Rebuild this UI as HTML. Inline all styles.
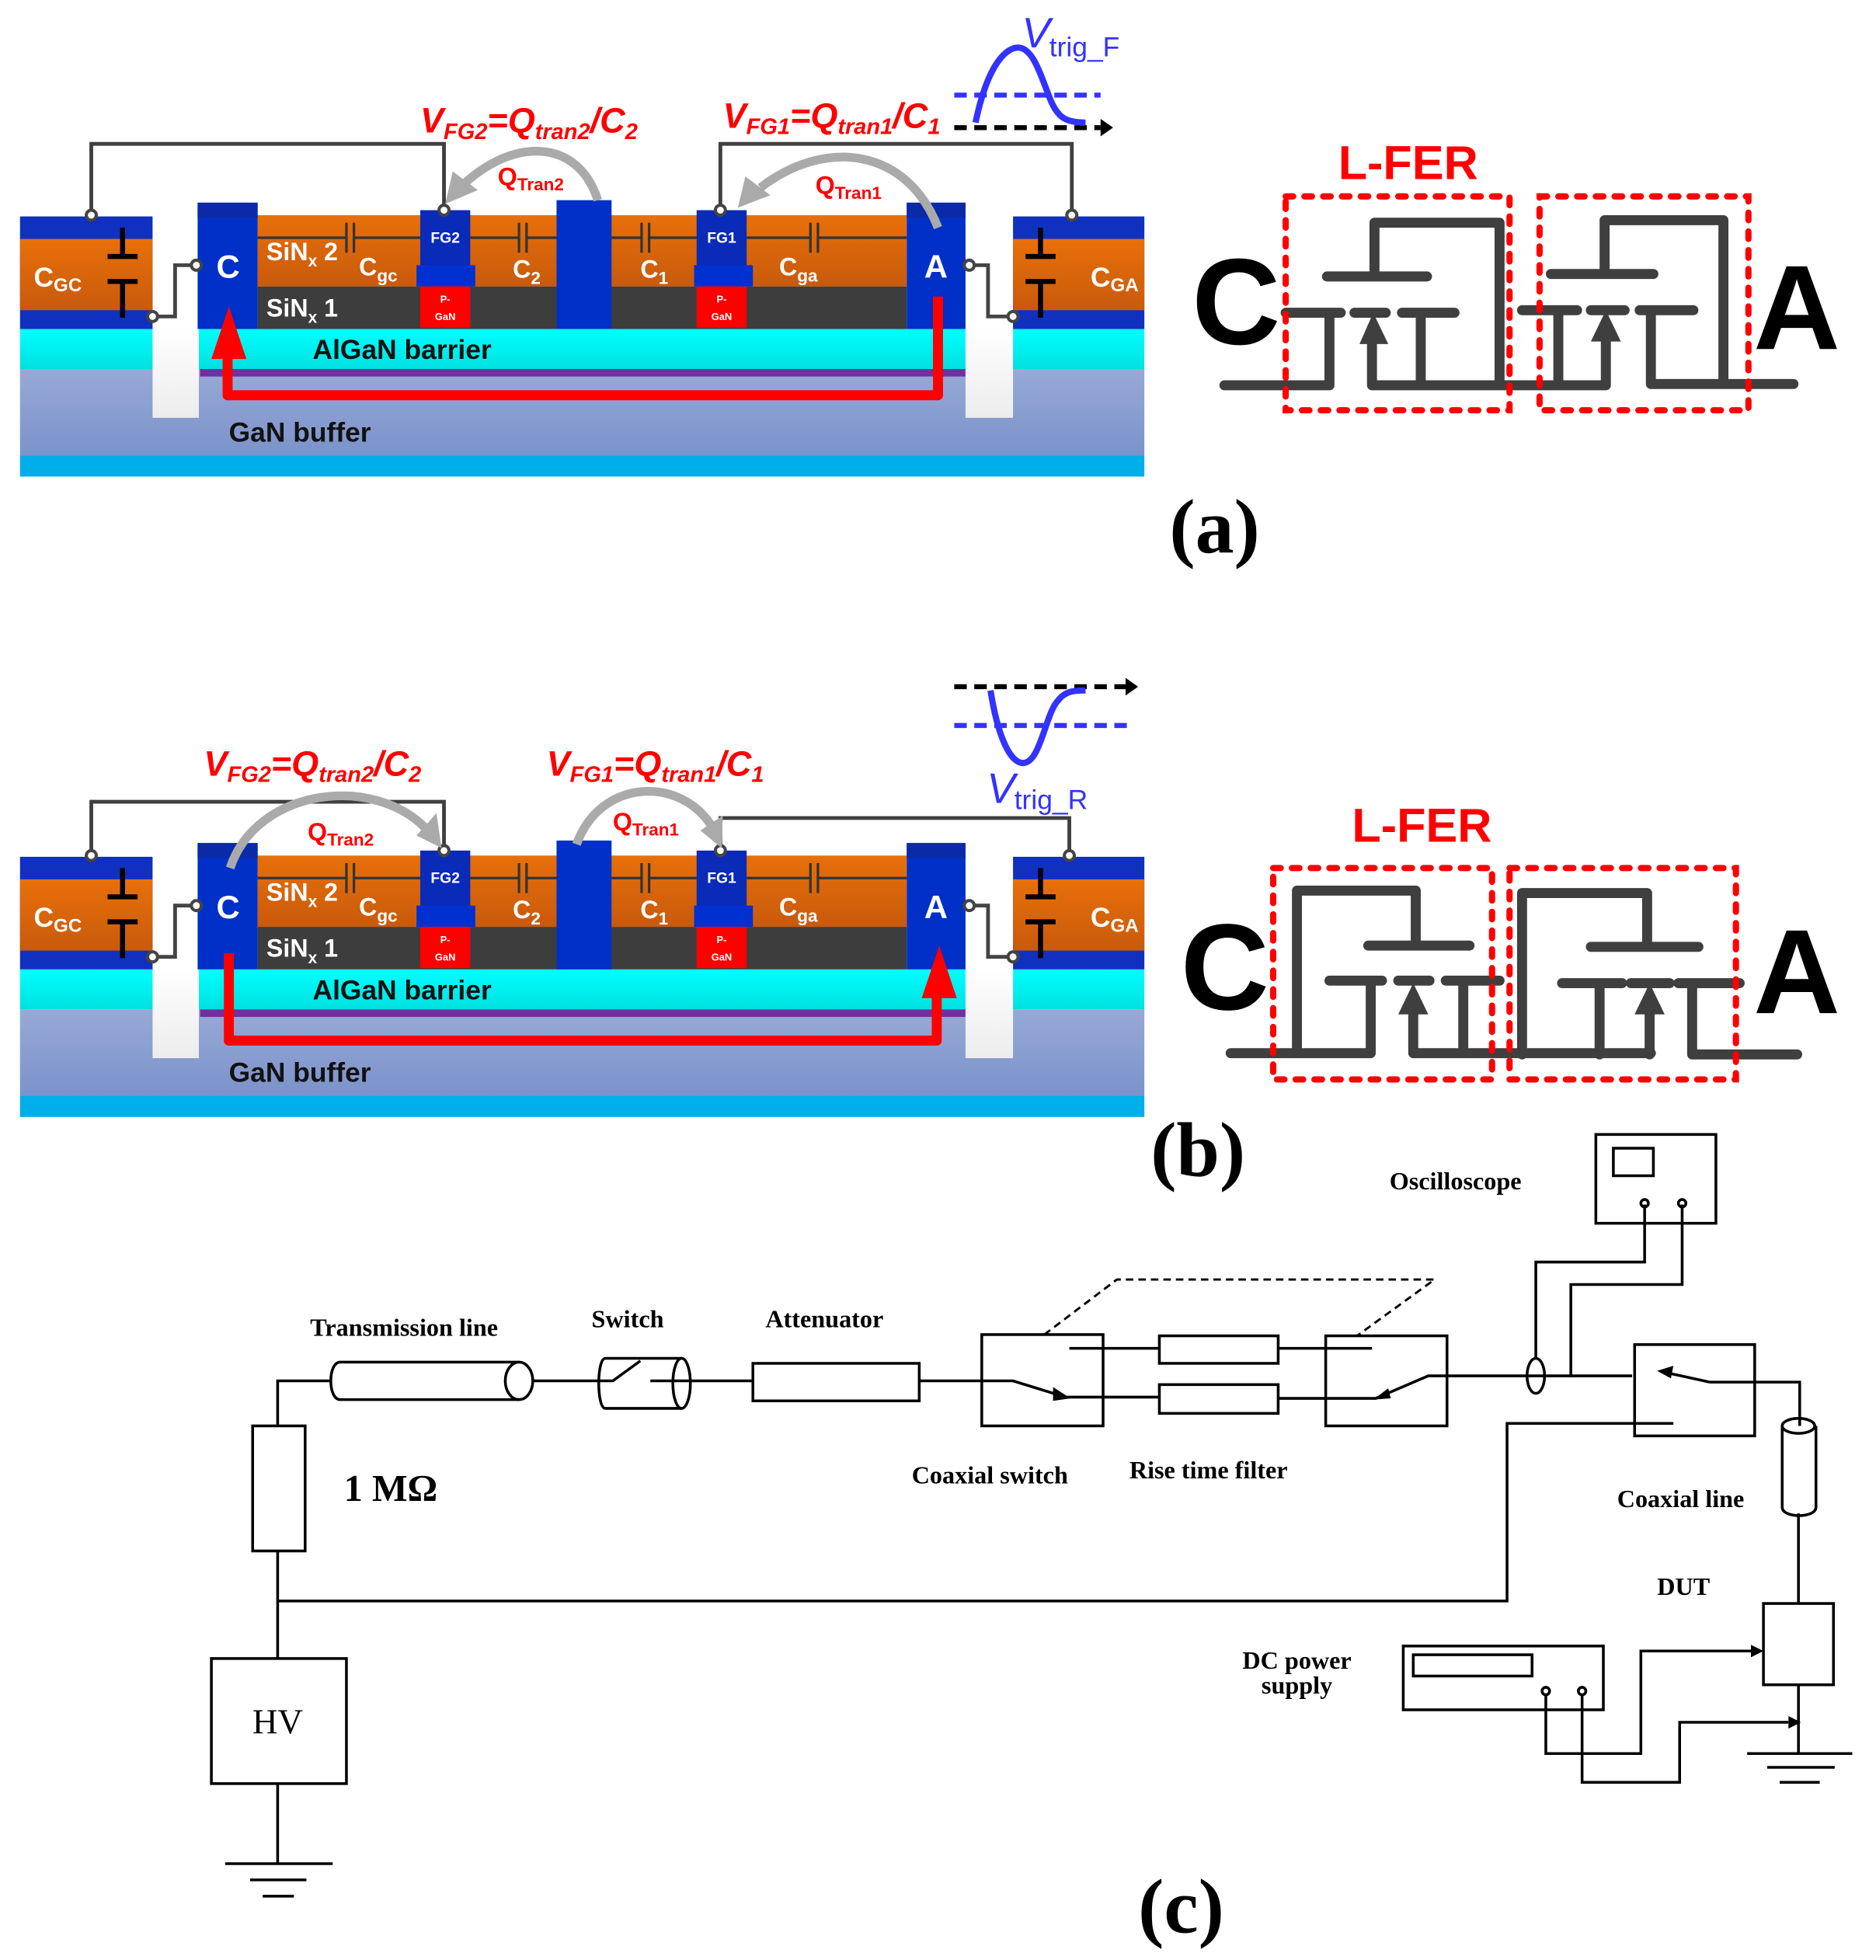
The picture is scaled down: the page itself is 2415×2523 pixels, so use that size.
<!DOCTYPE html>
<html><head><meta charset="utf-8"><style>
html,body{margin:0;padding:0;background:#fff}
svg{display:block}
.w{font-family:"Liberation Sans",sans-serif;font-weight:bold;fill:#fff}
.k{font-family:"Liberation Sans",sans-serif;font-weight:bold;fill:#111}
.r{font-family:"Liberation Sans",sans-serif;font-weight:bold;font-style:italic;fill:#f00}
.q{font-family:"Liberation Sans",sans-serif;font-weight:bold;fill:#f00}
.t{font-family:"Liberation Serif",serif;font-weight:bold;fill:#000}
.c{fill:none;stroke:#000;stroke-width:2.2}
.g{fill:none;stroke:#3f3f3f;stroke-width:8;stroke-linecap:round;stroke-linejoin:round}
.d{fill:none;stroke:#f00;stroke-width:5;stroke-dasharray:6 9;stroke-linecap:round}
</style></head><body>
<svg width="2415" height="2523" viewBox="0 0 1500 1567" xmlns="http://www.w3.org/2000/svg">
<defs>
<linearGradient id="or" x1="0" y1="0" x2="0" y2="1"><stop offset="0" stop-color="#e8700a"/><stop offset="1" stop-color="#c85a0c"/></linearGradient>
<linearGradient id="gb" x1="0" y1="0" x2="0" y2="1"><stop offset="0" stop-color="#97a9d6"/><stop offset="1" stop-color="#7b93cb"/></linearGradient>
<linearGradient id="cy" x1="0" y1="0" x2="0" y2="1"><stop offset="0" stop-color="#00ffff"/><stop offset="1" stop-color="#00e0e0"/></linearGradient>
<linearGradient id="wg" x1="0" y1="0" x2="0" y2="1"><stop offset="0" stop-color="#fff"/><stop offset="1" stop-color="#ececec"/></linearGradient>
<g id="dev">
 <rect x="16" y="263" width="899" height="32" fill="url(#cy)"/>
 <rect x="16" y="295" width="899" height="69" fill="url(#gb)"/>
 <rect x="16" y="364" width="899" height="17" fill="#00aee8"/>
 <rect x="160" y="295" width="612" height="6" fill="#7030a0"/>
 <rect x="122" y="262" width="37" height="72" fill="url(#wg)"/>
 <rect x="772" y="262" width="38" height="72" fill="url(#wg)"/>
 <!-- side cap blocks -->
 <rect x="16" y="173" width="106" height="90" fill="#1030c0"/>
 <rect x="16" y="191" width="106" height="57" fill="url(#or)"/>
 <rect x="810" y="173" width="105" height="90" fill="#1030c0"/>
 <rect x="810" y="191" width="105" height="57" fill="url(#or)"/>
 <!-- middle layers -->
 <rect x="206" y="172" width="519" height="57" fill="url(#or)"/>
 <rect x="206" y="229" width="519" height="34" fill="#3d3d3d"/>
 <!-- electrodes -->
 <rect x="158" y="162" width="48" height="101" fill="#0030c8"/>
 <rect x="158" y="162" width="48" height="12" fill="#0a2aa8"/>
 <rect x="725" y="162" width="47" height="101" fill="#0030c8"/>
 <rect x="725" y="162" width="47" height="12" fill="#0a2aa8"/>
 <rect x="445" y="160" width="44" height="103" fill="#0030c8"/>
 <rect x="336" y="168" width="40" height="45" fill="#0a2ab8"/>
 <rect x="333" y="212" width="47" height="17" fill="#0030d0"/>
 <rect x="336" y="229" width="40" height="33" fill="#f00"/>
 <rect x="557" y="168" width="40" height="45" fill="#0a2ab8"/>
 <rect x="555" y="212" width="47" height="17" fill="#0030d0"/>
 <rect x="557" y="229" width="40" height="33" fill="#f00"/>
 <!-- internal cap line -->
 <path d="M206 190H277M283 190H336M376 190H415M421 190H445M489 190H513M519 190H557M597 190H648M654 190H725" stroke="#333" stroke-width="2"/>
 <path d="M277 178V202M283 178V202M415 178V202M421 178V202M513 178V202M519 178V202M648 178V202M654 178V202" stroke="#333" stroke-width="2"/>
 <!-- side capacitors -->
 <path d="M98 182V205M86 205H110M86 225H110M98 225V254" stroke="#000" stroke-width="4"/>
 <path d="M832 182V205M820 205H844M820 225H844M832 225V254" stroke="#000" stroke-width="4"/>
 <!-- terminals -->
 <path d="M160 212H140V253H122" fill="none" stroke="#444" stroke-width="3"/>
 <path d="M772 212H790V253H810" fill="none" stroke="#444" stroke-width="3"/>
 <g fill="#fff" stroke="#444" stroke-width="2.5"><circle cx="157" cy="212" r="4"/><circle cx="122" cy="253" r="4"/><circle cx="775" cy="212" r="4"/><circle cx="810" cy="253" r="4"/></g>
 <!-- labels -->
 <text class="w" x="27" y="229" font-size="22">C<tspan font-size="15" dy="4">GC</tspan></text>
 <text class="w" x="872" y="229" font-size="22">C<tspan font-size="15" dy="4">GA</tspan></text>
 <text class="w" x="173" y="222" font-size="26">C</text>
 <text class="w" x="739" y="222" font-size="26">A</text>
 <text class="w" x="213" y="208" font-size="20">SiN<tspan font-size="13" dy="5">x</tspan><tspan dy="-5"> 2</tspan></text>
 <text class="w" x="213" y="253" font-size="20">SiN<tspan font-size="13" dy="5">x</tspan><tspan dy="-5"> 1</tspan></text>
 <text class="w" x="287" y="220" font-size="20">C<tspan font-size="14" dy="5">gc</tspan></text>
 <text class="w" x="410" y="222" font-size="20">C<tspan font-size="14" dy="5">2</tspan></text>
 <text class="w" x="512" y="222" font-size="20">C<tspan font-size="14" dy="5">1</tspan></text>
 <text class="w" x="623" y="220" font-size="20">C<tspan font-size="14" dy="5">ga</tspan></text>
 <text class="w" x="356" y="194" font-size="12" text-anchor="middle">FG2</text>
 <text class="w" x="577" y="194" font-size="12" text-anchor="middle">FG1</text>
 <text class="w" x="356" y="242" font-size="8" text-anchor="middle">P-</text>
 <text class="w" x="356" y="256" font-size="8" text-anchor="middle">GaN</text>
 <text class="w" x="577" y="242" font-size="8" text-anchor="middle">P-</text>
 <text class="w" x="577" y="256" font-size="8" text-anchor="middle">GaN</text>
 <text class="k" x="250" y="287" font-size="22">AlGaN barrier</text>
 <text class="k" x="183" y="353" font-size="22">GaN buffer</text>
</g>
<marker id="ah" markerWidth="10" markerHeight="8" refX="9" refY="4" orient="auto" markerUnits="userSpaceOnUse"><path d="M0 0L10 4L0 8z" fill="#000"/></marker>
</defs>

<!-- ===== (a) ===== -->
<use href="#dev"/>
<path d="M73 172V115H355V168M576 168V115H857V172" fill="none" stroke="#3f3f3f" stroke-width="3"/>
<g fill="#fff" stroke="#444" stroke-width="2.5"><circle cx="73" cy="172" r="4"/><circle cx="355" cy="168" r="4"/><circle cx="576" cy="168" r="4"/><circle cx="857" cy="172" r="4"/></g>
<path d="M478 160C462 110 410 110 370 148" fill="none" stroke="#aaa" stroke-width="7"/>
<polygon points="356,163 362,137 382,152" fill="#aaa"/>
<path d="M750 182C725 118 660 110 608 150" fill="none" stroke="#aaa" stroke-width="7"/>
<polygon points="590,166 596,141 616,156" fill="#aaa"/>
<path d="M750 237V316H182V280" fill="none" stroke="#f00" stroke-width="8" stroke-linejoin="round"/>
<polygon points="169,287 197,287 183,245" fill="#f00"/>
<text class="r" x="336" y="106" font-size="28">V<tspan font-size="18" dy="5">FG2</tspan><tspan dy="-5">=Q</tspan><tspan font-size="18" dy="5">tran2</tspan><tspan dy="-5">/C</tspan><tspan font-size="18" dy="5">2</tspan></text>
<text class="r" x="578" y="102" font-size="28">V<tspan font-size="18" dy="5">FG1</tspan><tspan dy="-5">=Q</tspan><tspan font-size="18" dy="5">tran1</tspan><tspan dy="-5">/C</tspan><tspan font-size="18" dy="5">1</tspan></text>
<text class="q" x="398" y="148" font-size="20">Q<tspan font-size="14" dy="4">Tran2</tspan></text>
<text class="q" x="652" y="155" font-size="20">Q<tspan font-size="14" dy="4">Tran1</tspan></text>
<path d="M763 102H880" stroke="#000" stroke-width="4" stroke-dasharray="10 6"/>
<polygon points="880,95 890,102 880,109" fill="#000"/>
<path d="M763 76H880" stroke="#3333ff" stroke-width="4" stroke-dasharray="10 6"/>
<path d="M780 98C790 50 805 38 814 38C826 38 832 60 840 80C846 94 852 98 868 98" fill="none" stroke="#3333ff" stroke-width="5"/>
<text x="817" y="38" font-family="Liberation Sans,sans-serif" font-style="italic" font-size="34" fill="#3333ff">V</text>
<text x="839" y="45" font-family="Liberation Sans,sans-serif" font-size="22" fill="#3333ff">trig_F</text>
<!-- circuit (a) -->
<text class="q" x="1070" y="143" font-size="38">L-FER</text>
<text x="953" y="275" font-family="Liberation Sans,sans-serif" font-weight="bold" font-size="98" fill="#000">C</text>
<text x="1402" y="279" font-family="Liberation Sans,sans-serif" font-weight="bold" font-size="96" fill="#000">A</text>
<path class="g" d="M979 308H1063V250M1028 250H1072M1083 250H1108M1121 250H1163M1061 221H1141M1099 221V178H1199V308H1097V262M1136 250V308M1199 308H1246M1217 248H1261M1272 248H1299M1311 248H1354M1240 219H1322M1283 219V176H1378V307H1320V248M1246 248V308H1284V262M1378 307H1434"/>
<polygon points="1087,275 1110,275 1098,250" fill="#3f3f3f"/>
<polygon points="1272,273 1296,273 1284,248" fill="#3f3f3f"/>
<rect class="d" x="1028" y="157" width="179" height="171"/>
<rect class="d" x="1231" y="157" width="167" height="171"/>
<text class="t" x="935" y="442" font-size="62">(a)</text>

<!-- ===== (b) ===== -->
<use href="#dev" y="512"/>
<path d="M73 684V641H355V680M576 680V654H855V684" fill="none" stroke="#3f3f3f" stroke-width="3"/>
<g fill="#fff" stroke="#444" stroke-width="2.5"><circle cx="73" cy="684" r="4"/><circle cx="355" cy="680" r="4"/><circle cx="576" cy="680" r="4"/><circle cx="855" cy="684" r="4"/></g>
<path d="M184 694C205 630 300 618 342 664" fill="none" stroke="#aaa" stroke-width="7"/>
<polygon points="353,678 333,668 349,650" fill="#aaa"/>
<path d="M461 675C480 622 545 620 570 662" fill="none" stroke="#aaa" stroke-width="7"/>
<polygon points="577,678 560,664 578,652" fill="#aaa"/>
<path d="M183 762V832H749V795" fill="none" stroke="#f00" stroke-width="8" stroke-linejoin="round"/>
<polygon points="737,798 765,798 751,756" fill="#f00"/>
<text class="r" x="163" y="620" font-size="28">V<tspan font-size="18" dy="5">FG2</tspan><tspan dy="-5">=Q</tspan><tspan font-size="18" dy="5">tran2</tspan><tspan dy="-5">/C</tspan><tspan font-size="18" dy="5">2</tspan></text>
<text class="r" x="437" y="620" font-size="28">V<tspan font-size="18" dy="5">FG1</tspan><tspan dy="-5">=Q</tspan><tspan font-size="18" dy="5">tran1</tspan><tspan dy="-5">/C</tspan><tspan font-size="18" dy="5">1</tspan></text>
<text class="q" x="246" y="672" font-size="20">Q<tspan font-size="14" dy="4">Tran2</tspan></text>
<text class="q" x="490" y="664" font-size="20">Q<tspan font-size="14" dy="4">Tran1</tspan></text>
<path d="M763 549H900" stroke="#000" stroke-width="4" stroke-dasharray="10 6"/>
<polygon points="900,542 910,549 900,556" fill="#000"/>
<path d="M763 580H905" stroke="#3333ff" stroke-width="4" stroke-dasharray="10 6"/>
<path d="M792 552C798 590 808 610 818 610C832 610 836 570 846 560C852 552 860 552 868 552" fill="none" stroke="#3333ff" stroke-width="5"/>
<text x="789" y="642" font-family="Liberation Sans,sans-serif" font-style="italic" font-size="34" fill="#3333ff">V</text>
<text x="811" y="647" font-family="Liberation Sans,sans-serif" font-size="22" fill="#3333ff">trig_R</text>
<!-- circuit (b) -->
<text class="q" x="1081" y="673" font-size="38">L-FER</text>
<text x="944" y="807" font-family="Liberation Sans,sans-serif" font-weight="bold" font-size="98" fill="#000">C</text>
<text x="1402" y="810" font-family="Liberation Sans,sans-serif" font-weight="bold" font-size="96" fill="#000">A</text>
<path class="g" d="M984 842H1096V784M1063 784H1105M1118 784H1143M1156 784H1199M1037 842V712H1132V756M1094 756H1175M1130 800V842H1320M1170 784V842M1217 843V714H1317V757M1272 757H1358M1249 786H1297M1304 786H1335M1342 786H1391M1279 786V843M1319 800V843M1353 786V843H1437"/>
<polygon points="1118,811 1142,811 1130,786" fill="#3f3f3f"/>
<polygon points="1307,811 1331,811 1319,786" fill="#3f3f3f"/>
<rect class="d" x="1018" y="694" width="175" height="169"/>
<rect class="d" x="1207" y="694" width="181" height="169"/>
<text class="t" x="920" y="940" font-size="62">(b)</text>

<!-- ===== (c) ===== -->
<g>
<path class="c" d="M265 1104H222V1140M222 1240V1326M222 1280H1205V1138H1338M222 1426V1490"/>
<path class="c" d="M180 1490H266M200 1503H245M210 1516H235" stroke-width="2"/>
<rect class="c" x="202" y="1140" width="42" height="100" stroke-width="2.5"/>
<rect class="c" x="169" y="1326" width="108" height="100" stroke-width="2.5"/>
<text x="222" y="1386" font-family="Liberation Serif,serif" font-size="28" text-anchor="middle">HV</text>
<text class="t" x="275" y="1200" font-size="30">1 MΩ</text>
<!-- transmission line -->
<path class="c" d="M272 1089H415M272 1119H415M272 1089C262 1089 262 1119 272 1119" stroke-width="2.5"/>
<ellipse class="c" cx="415" cy="1104" rx="11" ry="15"/>
<path class="c" d="M426 1104H490L512 1088M520 1104H602"/>
<path class="c" d="M484 1086H545M484 1126H545M484 1086C477 1086 477 1126 484 1126"/>
<ellipse class="c" cx="545" cy="1106" rx="7" ry="20"/>
<rect class="c" x="602" y="1090" width="133" height="30" stroke-width="2.5"/>
<path class="c" d="M735 1104H810L852 1117M852 1117H927M855 1078H927M1022 1078H1097M1022 1118H1100L1142 1100H1157M1157 1100H1305"/>
<polygon points="842,1109 856,1118 842,1120" fill="#000"/>
<polygon points="1098,1119 1110,1110 1112,1118" fill="#000"/>
<rect class="c" x="785" y="1067" width="97" height="73" stroke-width="2.5"/>
<rect class="c" x="927" y="1068" width="95" height="22" stroke-width="2.5"/>
<rect class="c" x="927" y="1107" width="95" height="23" stroke-width="2.5"/>
<rect class="c" x="1060" y="1068" width="97" height="72" stroke-width="2.5"/>
<path d="M835 1067L893 1023H1147L1085 1068" fill="none" stroke="#000" stroke-width="1.8" stroke-dasharray="6 4"/>
<ellipse class="c" cx="1228" cy="1100" rx="7" ry="14"/>
<path class="c" d="M1228 1086V1009H1315V963M1256 1101V1027H1345V963"/>
<rect class="c" x="1276" y="907" width="96" height="71" stroke-width="2.5"/>
<rect class="c" x="1290" y="918" width="32" height="22"/>
<circle class="c" cx="1315" cy="962" r="3" fill="#fff"/>
<circle class="c" cx="1345" cy="962" r="3" fill="#fff"/>
<rect class="c" x="1307" y="1075" width="96" height="73" stroke-width="2.5"/>
<path class="c" d="M1367 1105L1335 1098M1367 1105H1439V1140"/>
<polygon points="1325,1096 1338,1092 1336,1102" fill="#000"/>
<path class="c" d="M1425 1140V1205M1452 1140V1205M1425 1205C1425 1214 1452 1214 1452 1205"/>
<ellipse class="c" cx="1438" cy="1140" rx="13" ry="6"/>
<path class="c" d="M1438 1210V1282M1438 1347V1402"/>
<rect class="c" x="1410" y="1282" width="56" height="65" stroke-width="2.5"/>
<path class="c" d="M1397 1402H1481M1413 1413H1467M1423 1425H1455" stroke-width="2.5"/>
<rect class="c" x="1122" y="1316" width="160" height="51" stroke-width="2.5"/>
<rect class="c" x="1130" y="1323" width="95" height="17" stroke-width="2.5"/>
<circle class="c" cx="1236" cy="1352" r="3" fill="#fff"/>
<circle class="c" cx="1265" cy="1352" r="3" fill="#fff"/>
<path class="c" d="M1236 1355V1402H1312V1320H1400M1265 1355V1425H1343V1377H1430"/>
<polygon points="1400,1315 1410,1320 1400,1325" fill="#000"/>
<polygon points="1430,1372 1440,1377 1430,1382" fill="#000"/>
<g font-family="Liberation Serif,serif" font-weight="bold" font-size="20" fill="#000">
<text x="248" y="1068">Transmission line</text>
<text x="473" y="1061">Switch</text>
<text x="612" y="1061">Attenuator</text>
<text x="729" y="1186">Coaxial switch</text>
<text x="903" y="1182">Rise time filter</text>
<text x="1111" y="951">Oscilloscope</text>
<text x="1293" y="1205">Coaxial line</text>
<text x="1325" y="1275">DUT</text>
<text x="1037" y="1334" text-anchor="middle">DC power</text>
<text x="1037" y="1354" text-anchor="middle">supply</text>
</g>
<text class="t" x="910" y="1545" font-size="62">(c)</text>
</g>
</svg>
</body></html>
